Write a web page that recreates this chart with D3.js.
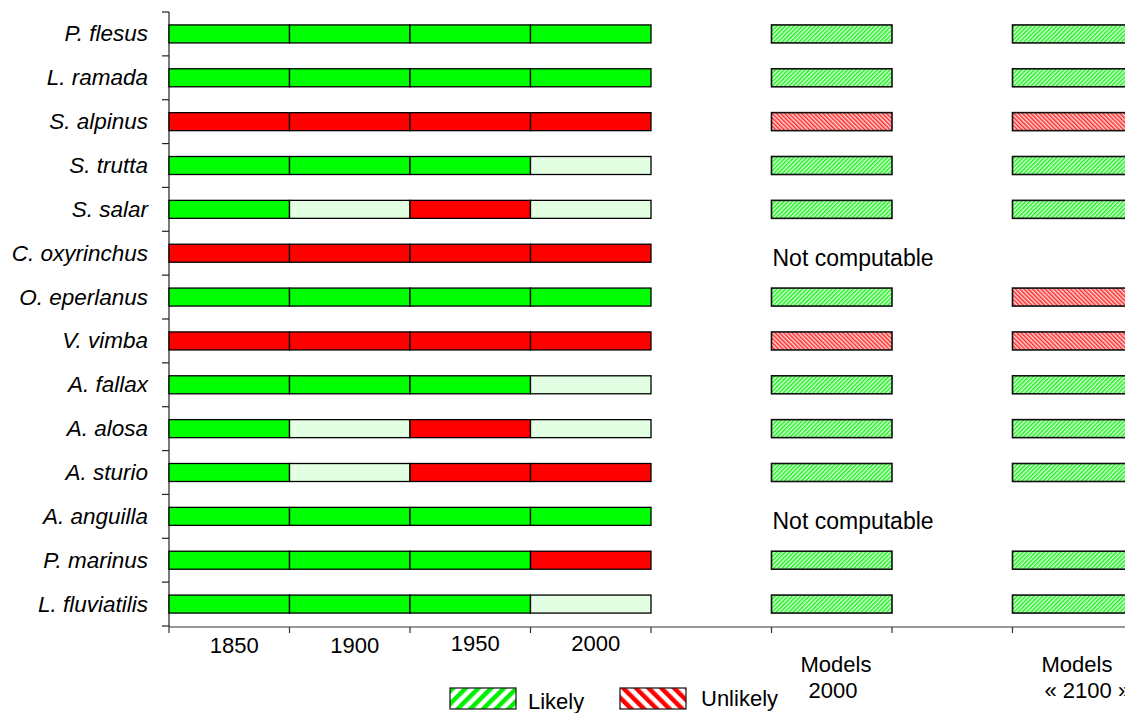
<!DOCTYPE html>
<html><head><meta charset="utf-8">
<script src="https://cdn.jsdelivr.net/npm/d3@7"></script>
<style>
html,body{margin:0;padding:0;background:#fff;}
svg{display:block;font-family:"Liberation Sans",Arial,sans-serif;}
</style></head>
<body>
<svg id="chart" width="1125" height="713"></svg>
<script>
// ---- data ----
const species = ["P. flesus","L. ramada","S. alpinus","S. trutta","S. salar","C. oxyrinchus","O. eperlanus","V. vimba","A. fallax","A. alosa","A. sturio","A. anguilla","P. marinus","L. fluviatilis"];
const periods = ["1850","1900","1950","2000"];
// G = present (green), R = absent (red), P = partial / uncertain (pale green)
const hist1850 = ["G","G","R","G","G","R","G","R","G","G","G","G","G","G"];
const hist1900 = ["G","G","R","G","P","R","G","R","G","P","P","G","G","G"];
const hist1950 = ["G","G","R","G","R","R","G","R","G","R","R","G","G","G"];
const hist2000 = ["G","G","R","P","P","R","G","R","P","P","R","G","R","P"];
// L = likely, U = unlikely, N = not computable
const model2000 = ["L","L","U","L","L","N","L","U","L","L","L","N","L","L"];
const model2100 = ["L","L","U","L","L","N","U","U","L","L","L","N","L","L"];
const modelLabels = [["Models","2000"],["Models","« 2100 »"]];
const legendItems = ["Likely","Unlikely"];
const notComputable = "Not computable";

// ---- layout ----
const svg = d3.select("#chart");
const x = d3.scaleLinear().domain([0,8]).range([169,1133]);
const y = d3.scaleBand().domain(species).range([12,626]).padding(0);
const barH = 18;
const cy = s => y(s) + y.bandwidth()/2;

const defs = svg.append("defs");
function hatch(id, color, bg, size, angle){
  const p = defs.append("pattern").attr("id",id).attr("patternUnits","userSpaceOnUse")
    .attr("width",size).attr("height",size).attr("patternTransform",`rotate(${angle})`);
  p.append("rect").attr("width",size).attr("height",size).attr("fill",bg);
  p.append("rect").attr("width",size/2).attr("height",size).attr("fill",color);
}
hatch("hgFine","#22f022","#d8ffd8",3,45);
hatch("hrFine","#ff2a2a","#ffd8d8",3,-45);
hatch("hgBig","#00ee00","#ffffff",9,45);
hatch("hrBig","#ff0000","#ffffff",9,-45);
const dots = defs.append("pattern").attr("id","pale").attr("patternUnits","userSpaceOnUse").attr("width",2).attr("height",2);
dots.append("rect").attr("width",2).attr("height",2).attr("fill","#eaffea");
dots.append("rect").attr("width",1).attr("height",1).attr("fill","#ccffcc");

const histFill = {G:"#00ff00", R:"#ff0000", P:"url(#pale)"};
const modelFill = {L:"url(#hgFine)", U:"url(#hrFine)"};

// ---- axes ----
const yAxisG = svg.append("g");
yAxisG.append("line").attr("x1",x(0)).attr("x2",x(0)).attr("y1",y.range()[0]).attr("y2",y.range()[1]+1)
  .attr("stroke","#222").attr("stroke-width",1.2);
const bounds = species.map(s=>y(s)).concat([y.range()[1]]);
yAxisG.selectAll("line.t").data(bounds).join("line").attr("class","t")
  .attr("x1",x(0)-7).attr("x2",x(0)).attr("y1",d=>d).attr("y2",d=>d)
  .attr("stroke","#222").attr("stroke-width",1.2);

const xAxisY = 627;
const xAxisG = svg.append("g").attr("transform",`translate(0,${xAxisY})`);
xAxisG.append("line").attr("x1",x(0)).attr("x2",1125).attr("stroke","#333").attr("stroke-width",1.2);
xAxisG.selectAll("line.t").data(d3.range(0,8)).join("line").attr("class","t")
  .attr("x1",d=>x(d)).attr("x2",d=>x(d)).attr("y1",0).attr("y2",6)
  .attr("stroke","#333").attr("stroke-width",1.2);
xAxisG.selectAll("text.p").data(periods).join("text").attr("class","p")
  .attr("x",(d,i)=>x(i+0.5)+5).attr("y",(d,i)=>i<2?26:24).attr("text-anchor","middle")
  .attr("font-size",22).attr("fill","#000").text(d=>d);
modelLabels.forEach((lab,j)=>{
  const t = xAxisG.append("text").attr("font-size",22).attr("fill","#000");
  t.append("tspan").attr("x",x(j===0?5:7)+29).attr("y",45).text(lab[0]);
  t.append("tspan").attr("x",x(j===0?5:7)+(j===0?37:32)).attr("y",71).text(lab[1]);
});

// ---- species labels ----
svg.append("g").selectAll("text").data(species).join("text")
  .attr("x",148).attr("y",d=>cy(d)+7.5).attr("text-anchor","end")
  .attr("font-size",22.5).attr("font-style","italic").attr("fill","#000").text(d=>d);

// ---- historical bars ----
const histCols = [hist1850,hist1900,hist1950,hist2000];
const cells = [];
species.forEach((s,i)=>histCols.forEach((col,j)=>cells.push({s,j,v:col[i]})));
svg.append("g").selectAll("rect").data(cells).join("rect")
  .attr("x",d=>x(d.j)).attr("width",x(1)-x(0))
  .attr("y",d=>cy(d.s)-barH/2).attr("height",barH)
  .attr("fill",d=>histFill[d.v]).attr("stroke","#000").attr("stroke-width",1.3);

// ---- model bars ----
const mcells = [];
species.forEach((s,i)=>{
  [[model2000,5],[model2100,7]].forEach(([arr,pos])=>{ if(arr[i]!=="N") mcells.push({s,pos,v:arr[i]}); });
});
svg.append("g").selectAll("rect").data(mcells).join("rect")
  .attr("x",d=>x(d.pos)).attr("width",x(1)-x(0))
  .attr("y",d=>cy(d.s)-barH/2).attr("height",barH)
  .attr("fill",d=>modelFill[d.v]).attr("stroke","#111").attr("stroke-width",1.6);

// ---- not computable ----
const nc = species.filter((s,i)=>model2000[i]==="N");
svg.append("g").selectAll("text").data(nc).join("text")
  .attr("x",x(5)+1).attr("y",d=>cy(d)+13).attr("font-size",23).attr("fill","#000").text(notComputable);

// ---- legend ----
const legX = [450,620];
const lg = svg.append("g").selectAll("g").data(legendItems).join("g")
  .attr("transform",(d,i)=>`translate(${legX[i]},688)`);
lg.append("rect").attr("width",66).attr("height",21)
  .attr("fill",(d,i)=>i===0?"url(#hgBig)":"url(#hrBig)").attr("stroke","#222").attr("stroke-width",1.3);
lg.append("text").attr("x",(d,i)=>i===0?78:81).attr("y",(d,i)=>i===0?21:18)
  .attr("font-size",22).attr("fill","#000").text(d=>d);
</script>
</body></html>
